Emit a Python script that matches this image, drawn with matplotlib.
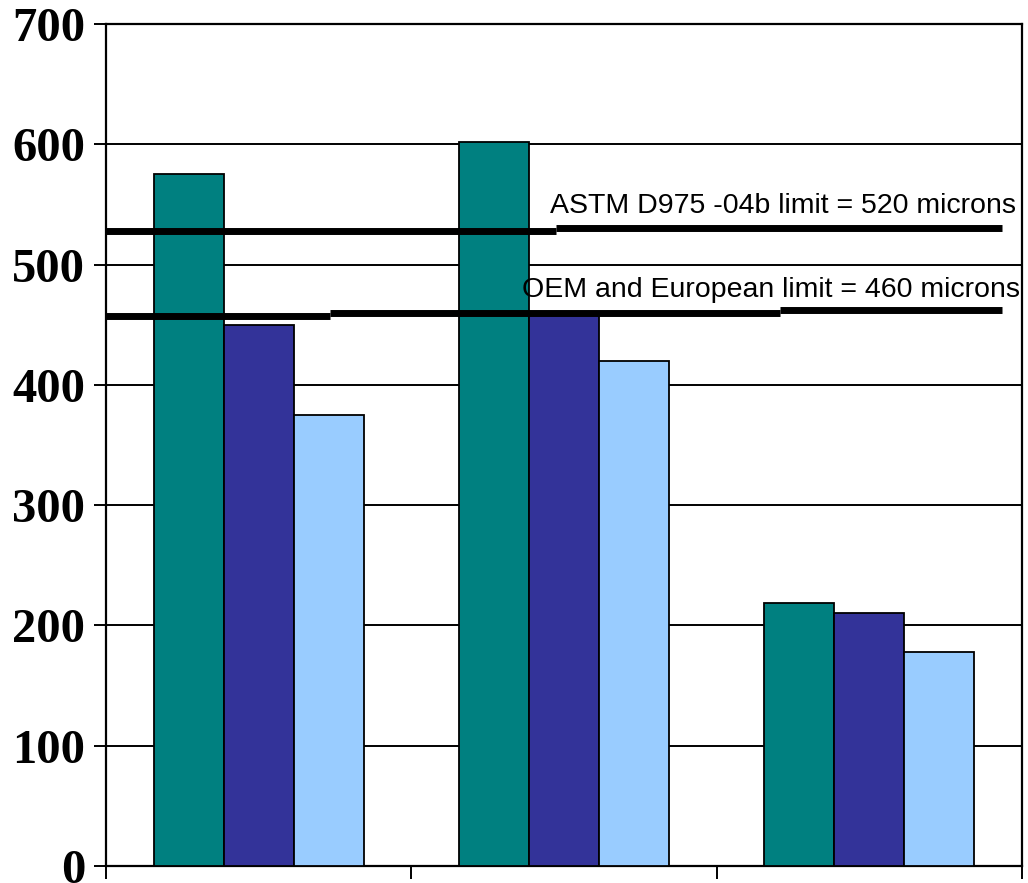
import matplotlib
matplotlib.use("Agg")
import matplotlib.pyplot as plt
import numpy as np

# ---- data ----
categories = ["Group 1", "Group 2", "Group 3"]
series_teal = [575, 602, 219]
series_navy = [450, 458, 210]
series_light = [375, 420, 178]
y_ticks = [0, 100, 200, 300, 400, 500, 600, 700]

# stepped limit lines as drawn: segment values and their x extents (category units)
astm_y = [528, 530]
astm_xmin = [-0.5, 0.974]
astm_xmax = [0.974, 2.435]
oem_y = [457.5, 460, 462]
oem_xmin = [-0.5, 0.234, 1.707]
oem_xmax = [0.234, 1.707, 2.435]
astm_label = "ASTM D975 -04b limit = 520 microns"
oem_label = "OEM and European limit = 460 microns"

colors = ["#008080", "#333399", "#99CCFF"]

fig = plt.figure(figsize=(10.28, 8.83), dpi=100)
ax = fig.add_axes([106/1028, 1-866/883, (1022-106)/1028, (866-24)/883])

x = np.arange(len(categories))
w = 0.229
for i, (vals, c) in enumerate(zip([series_teal, series_navy, series_light], colors)):
    ax.bar(x + (i-1)*w, vals, width=w, color=c, edgecolor="black", linewidth=1.3, zorder=3)

ax.hlines(astm_y, astm_xmin, astm_xmax, color="black", linewidth=5, zorder=4)
ax.hlines(oem_y, oem_xmin, oem_xmax, color="black", linewidth=5, zorder=4)

ax.text(0.954, 543, astm_label, fontsize=20.5, family="Liberation Sans", ha="left",
        va="baseline", zorder=5, clip_on=False)
ax.text(0.862, 473, oem_label, fontsize=20.5, family="Liberation Sans", ha="left",
        va="baseline", zorder=5, clip_on=False)

ax.set_xlim(-0.5, 2.5)
ax.set_ylim(0, 700)
ax.set_yticks(y_ticks)
ax.set_yticklabels([str(v) for v in y_ticks], fontsize=35, fontweight="bold",
                   family="Liberation Serif")
ax.set_xticks([-0.5, 0.5, 1.5, 2.5])
ax.set_xticklabels([])
ax.tick_params(axis="y", direction="out", length=9, width=1.4, pad=6)
ax.tick_params(axis="x", direction="out", length=9, width=1.4)
ax.yaxis.grid(True, color="black", linewidth=1.4, zorder=0)
ax.set_axisbelow(True)
for s in ["left", "right", "bottom", "top"]:
    ax.spines[s].set_linewidth(1.6)
    ax.spines[s].set_color("black")

fig.savefig("out.png", dpi=100)
